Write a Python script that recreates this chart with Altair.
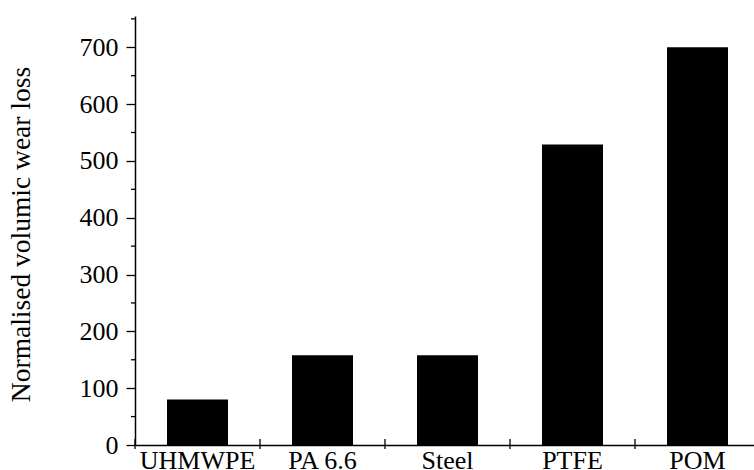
import altair as alt
import pandas as pd

# Normalised volumic wear loss per counterface material
materials = ["UHMWPE", "PA 6.6", "Steel", "PTFE", "POM"]
wear_loss = [80, 158, 158, 529, 700]

major_ticks = [0, 100, 200, 300, 400, 500, 600, 700]
minor_ticks = [50, 150, 250, 350, 450, 550, 650, 750]

FONT = "Liberation Serif"
PLOT_W = 619
PLOT_H = 429
Y_MAX = 755

bars_df = pd.DataFrame({"material": materials, "wear": wear_loss})
minor_df = pd.DataFrame({"v": minor_ticks})

x_scale = alt.Scale(domain=materials, range=[0, 625], paddingInner=0, paddingOuter=0)
y_scale = alt.Scale(domain=[0, Y_MAX], nice=False, zero=True)

bars = alt.Chart(bars_df).mark_bar(color="black", size=61).encode(
    x=alt.X(
        "material:N",
        scale=x_scale,
        sort=materials,
        axis=alt.Axis(
            title=None,
            labelAngle=0,
            labelFont=FONT,
            labelFontSize=26,
            labelColor="black",
            labelPadding=2,
            ticks=False,
            tickSize=0,
            domainColor="black",
            domainWidth=1.5,
        ),
    ),
    y=alt.Y(
        "wear:Q",
        scale=y_scale,
        axis=alt.Axis(
            title="Normalised volumic wear loss",
            values=major_ticks,
            grid=False,
            labelFont=FONT,
            labelFontSize=26,
            labelColor="black",
            labelPadding=8,
            tickSize=9,
            tickColor="black",
            tickWidth=1.3,
            domainColor="black",
            domainWidth=1.5,
            titleFont=FONT,
            titleFontSize=27.5,
            titleFontWeight="normal",
            titleColor="black",
            titleAngle=270,
            titleAlign="center",
            titleBaseline="alphabetic",
            titleX=-106,
            titleY=218,
        ),
    ),
)

# small ticks crossing the x axis at each category boundary
x_ticks = alt.Chart(bars_df).mark_rule(color="black", strokeWidth=1.3).encode(
    x=alt.X("material:N", scale=x_scale, sort=materials, bandPosition=0),
    y=alt.value(PLOT_H - 6),
    y2=alt.value(PLOT_H + 4),
)

# minor ticks on the y axis
y_minor = alt.Chart(minor_df).mark_rule(color="black", strokeWidth=1.3).encode(
    y=alt.Y("v:Q", scale=y_scale),
    x=alt.value(-4),
    x2=alt.value(0),
)

chart = (
    alt.layer(bars, x_ticks, y_minor)
    .properties(
        width=PLOT_W,
        height=PLOT_H,
        autosize=alt.AutoSizeParams(type="none"),
        padding={"left": 135, "top": 16, "right": 0, "bottom": 25},
        background="white",
    )
    .configure_view(stroke=None)
)

chart.save("out.html", embed_options={"renderer": "svg", "actions": False})
